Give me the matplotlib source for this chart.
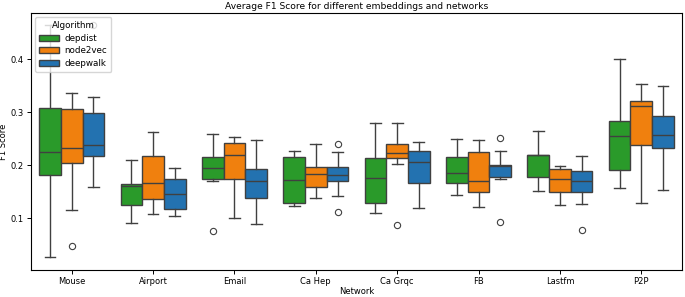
import matplotlib
matplotlib.use("Agg")
import matplotlib.pyplot as plt
from matplotlib.patches import Patch
import numpy as np

networks = ["Mouse", "Airport", "Email", "Ca Hep", "Ca Grqc", "FB", "Lastfm", "P2P"]
algorithms = ["depdist", "node2vec", "deepwalk"]
colors = ["#2a9a2a", "#f0800e", "#2372b0"]

# per algorithm, per network: box statistics
depdist_q1 = [0.181, 0.125, 0.174, 0.129, 0.129, 0.167, 0.178, 0.192]
depdist_med = [0.225, 0.162, 0.196, 0.172, 0.177, 0.185, 0.219, 0.256]
depdist_q3 = [0.309, 0.165, 0.215, 0.216, 0.213, 0.215, 0.220, 0.284]
depdist_lo = [0.027, 0.092, 0.170, 0.124, 0.110, 0.144, 0.151, 0.157]
depdist_hi = [0.465, 0.210, 0.259, 0.227, 0.279, 0.249, 0.265, 0.400]
depdist_fl = [[], [], [0.076], [], [], [], [], []]

node2vec_q1 = [0.205, 0.137, 0.174, 0.159, 0.213, 0.150, 0.149, 0.239]
node2vec_med = [0.232, 0.166, 0.220, 0.183, 0.224, 0.170, 0.174, 0.312]
node2vec_q3 = [0.306, 0.218, 0.243, 0.197, 0.241, 0.225, 0.193, 0.322]
node2vec_lo = [0.116, 0.108, 0.100, 0.139, 0.202, 0.121, 0.125, 0.129]
node2vec_hi = [0.336, 0.262, 0.254, 0.241, 0.280, 0.248, 0.198, 0.354]
node2vec_fl = [[0.049], [], [], [], [0.087], [], [], []]

deepwalk_q1 = [0.217, 0.118, 0.138, 0.171, 0.167, 0.179, 0.150, 0.232]
deepwalk_med = [0.239, 0.146, 0.170, 0.182, 0.206, 0.198, 0.171, 0.258]
deepwalk_q3 = [0.298, 0.174, 0.194, 0.197, 0.228, 0.201, 0.189, 0.293]
deepwalk_lo = [0.159, 0.104, 0.090, 0.142, 0.119, 0.175, 0.128, 0.154]
deepwalk_hi = [0.329, 0.196, 0.248, 0.225, 0.245, 0.228, 0.218, 0.350]
deepwalk_fl = [[0.465], [], [], [0.241, 0.112], [], [0.251, 0.093], [0.078], []]

series = [
    (depdist_q1, depdist_med, depdist_q3, depdist_lo, depdist_hi, depdist_fl),
    (node2vec_q1, node2vec_med, node2vec_q3, node2vec_lo, node2vec_hi, node2vec_fl),
    (deepwalk_q1, deepwalk_med, deepwalk_q3, deepwalk_lo, deepwalk_hi, deepwalk_fl),
]

plt.rcParams['font.family'] = ['DejaVu Sans']
fig = plt.figure(figsize=(6.85, 2.97), dpi=100)
ax = fig.add_axes([31/685, 27/297, 651/685, 257/297])

edge = "#404040"
bw = 0.8 / 3
for j, (q1, med, q3, lo, hi, fl) in enumerate(series):
    stats = []
    for i in range(len(networks)):
        stats.append(dict(q1=q1[i], med=med[i], q3=q3[i], whislo=lo[i], whishi=hi[i], fliers=fl[i]))
    pos = np.arange(len(networks)) + (j - 1) * bw
    ax.bxp(stats, positions=pos, widths=bw, patch_artist=True, manage_ticks=False,
           boxprops=dict(facecolor=colors[j], edgecolor=edge, linewidth=1.0),
           medianprops=dict(color=edge, linewidth=1.0),
           whiskerprops=dict(color=edge, linewidth=1.0),
           capprops=dict(color=edge, linewidth=1.0),
           flierprops=dict(marker='o', markerfacecolor='none', markeredgecolor=edge,
                           markersize=4.5, markeredgewidth=0.8))

ax.set_xlim(-0.5, len(networks) - 0.5)
ax.set_ylim(0.003, 0.487)
ax.set_xticks(np.arange(len(networks)))
ax.set_xticklabels(networks)
ax.set_yticks([0.1, 0.2, 0.3, 0.4])
ax.tick_params(labelsize=6, length=3, width=0.7, pad=2)
for s in ax.spines.values():
    s.set_linewidth(0.8)
ax.set_xlabel("Network", fontsize=6, labelpad=1)
ax.set_ylabel("F1 Score", fontsize=6, labelpad=2)
ax.set_title("Average F1 Score for different embeddings and networks", fontsize=6.6, pad=3)

handles = [Patch(facecolor=c, edgecolor=edge, linewidth=1.0) for c in colors]
ax.legend(handles, algorithms, title="Algorithm", loc="upper left", fontsize=6.3,
          title_fontsize=6.3, borderpad=0.45, labelspacing=0.4, handlelength=2.2,
          handletextpad=0.7, frameon=True)

fig.savefig("out.png", dpi=100)
